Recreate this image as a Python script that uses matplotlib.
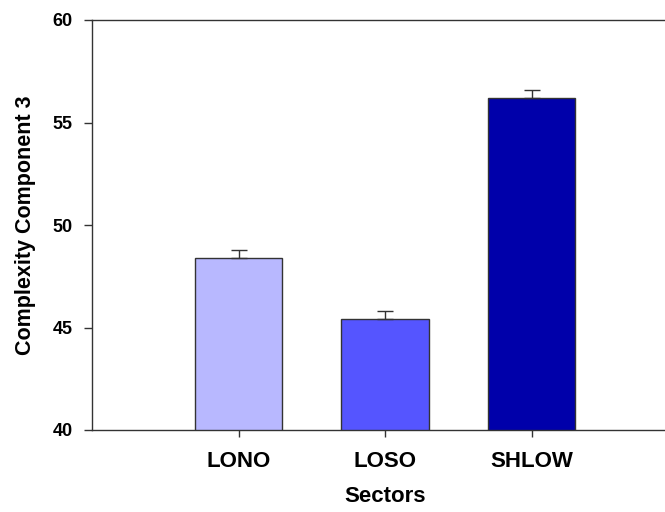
import matplotlib
matplotlib.use("Agg")
import matplotlib.pyplot as plt

categories = ["LONO", "LOSO", "SHLOW"]
values = [48.4, 45.4, 56.2]
errors = [0.4, 0.4, 0.4]
colors = ["#B8B8FF", "#5555FF", "#0000AA"]
yticks = [40, 45, 50, 55, 60]

plt.rcParams['font.family'] = ['Liberation Sans', 'DejaVu Sans']
fig = plt.figure(figsize=(6.65, 5.12), dpi=100)
ax = fig.add_axes([92/665, 82/512, 586/665, 410/512])
pos = [1, 2, 3]
ax.bar(pos, values, width=0.6, color=colors, edgecolor="#333333", linewidth=1.0, zorder=2)
ax.errorbar(pos, values, yerr=[[0]*3, errors], fmt="none", ecolor="#333333",
            elinewidth=1.0, capsize=6, capthick=1.0, zorder=3)
ax.set_xlim(0, 4)
ax.set_ylim(40, 60)
ax.set_yticks(yticks)
ax.set_xticks(pos)
ax.set_xticklabels(categories, fontsize=16, fontweight="bold")
ax.set_yticklabels([str(t) for t in yticks], fontsize=13, fontweight="bold")
for s in ["left", "bottom", "top"]:
    ax.spines[s].set_color("#333333")
    ax.spines[s].set_linewidth(1.0)
ax.spines["right"].set_visible(False)
ax.tick_params(axis="y", direction="out", length=6, width=1, color="#333333", pad=8)
ax.tick_params(axis="x", direction="out", length=5, width=1, color="#333333", pad=10)
ax.set_xlabel("Sectors", fontsize=16, fontweight="bold", labelpad=10)
ax.set_ylabel("Complexity Component 3", fontsize=15.5, fontweight="bold", labelpad=12)
fig.savefig("out.png", dpi=100)
